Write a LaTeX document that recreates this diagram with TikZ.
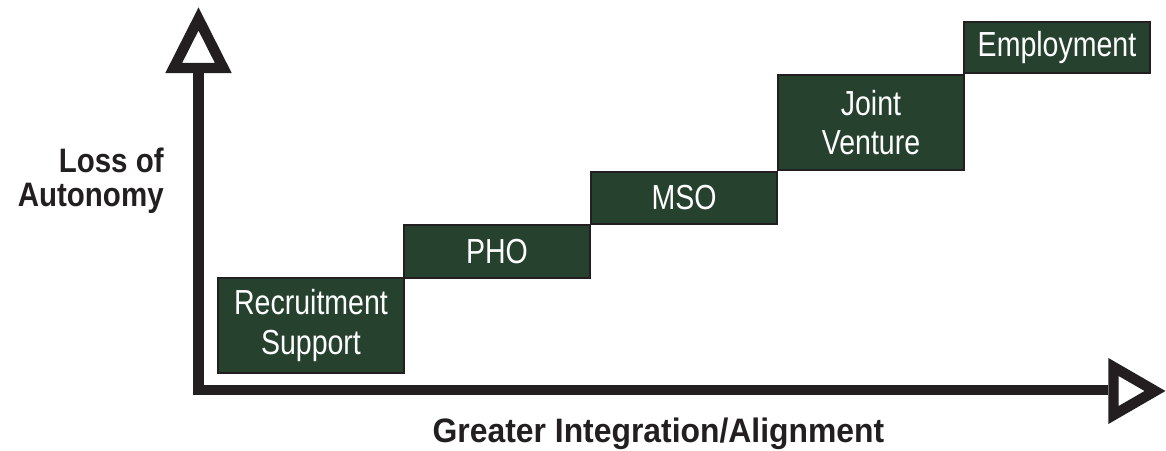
\documentclass[tikz,border=0pt]{standalone}
\usepackage{fontspec}
\usepackage{xcolor}
\newfontfamily\stagefont{Liberation Sans}[FakeStretch=0.82]
\newfontfamily\ylabelfont{Liberation Sans}[FakeStretch=0.87]
\newfontfamily\xlabelfont{Liberation Sans}[FakeStretch=0.94]
\definecolor{axisdark}{HTML}{231F20}
\definecolor{stagegreen}{HTML}{26422F}
\tikzset{
stage/.style={draw=axisdark, line width=1.1pt, fill=stagegreen, text=white,
  minimum width=3.72cm, inner sep=0pt, outer sep=0pt, anchor=south west,
  align=center, font=\stagefont\fontsize{19.8}{22.7}\selectfont},
axisline/.style={draw=axisdark, line width=5.95pt},
axishead/.style={draw=axisdark, line width=5.95pt, fill=white},
axislabel/.style={text=axisdark, inner sep=0pt}
}

\begin{document}
\begin{tikzpicture}[x=0.02cm,y=-0.02cm]
\useasboundingbox (0,0) rectangle (1166,450);

\coordinate (ytop) at (198.5,73);
\coordinate (origin) at (198.5,390);
\coordinate (xend) at (1108,390);

\draw[axisline] (ytop)--(origin)--(xend);
\draw[axishead] (198.5,19)--(173.7,68)--(223.3,68)--cycle;
\draw[axishead] (1155,391)--(1113.5,367)--(1113.5,415)--cycle;

\node[stage, minimum height=1.9cm] (recruit) at (218,373) {Recruitment\\Support};
\node[stage, minimum height=1.06cm] (pho) at (404,278) {PHO};
\node[stage, minimum height=1.04cm] (mso) at (591,224) {MSO};
\node[stage, minimum height=1.9cm] (venture) at (778,170) {Joint\\Venture};
\node[stage, minimum height=1.02cm] (employ) at (964,73) {Employment};

\node[axislabel, align=right, anchor=base east,
  font=\ylabelfont\bfseries\fontsize{19.3}{19.3}\selectfont] (loss) at (164,206) {Loss of\\Autonomy};
\node[axislabel, anchor=base,
  font=\xlabelfont\bfseries\fontsize{19.3}{19.3}\selectfont] (integ) at (658.5,442.3) {Greater Integration/Alignment};
\end{tikzpicture}
\end{document}
